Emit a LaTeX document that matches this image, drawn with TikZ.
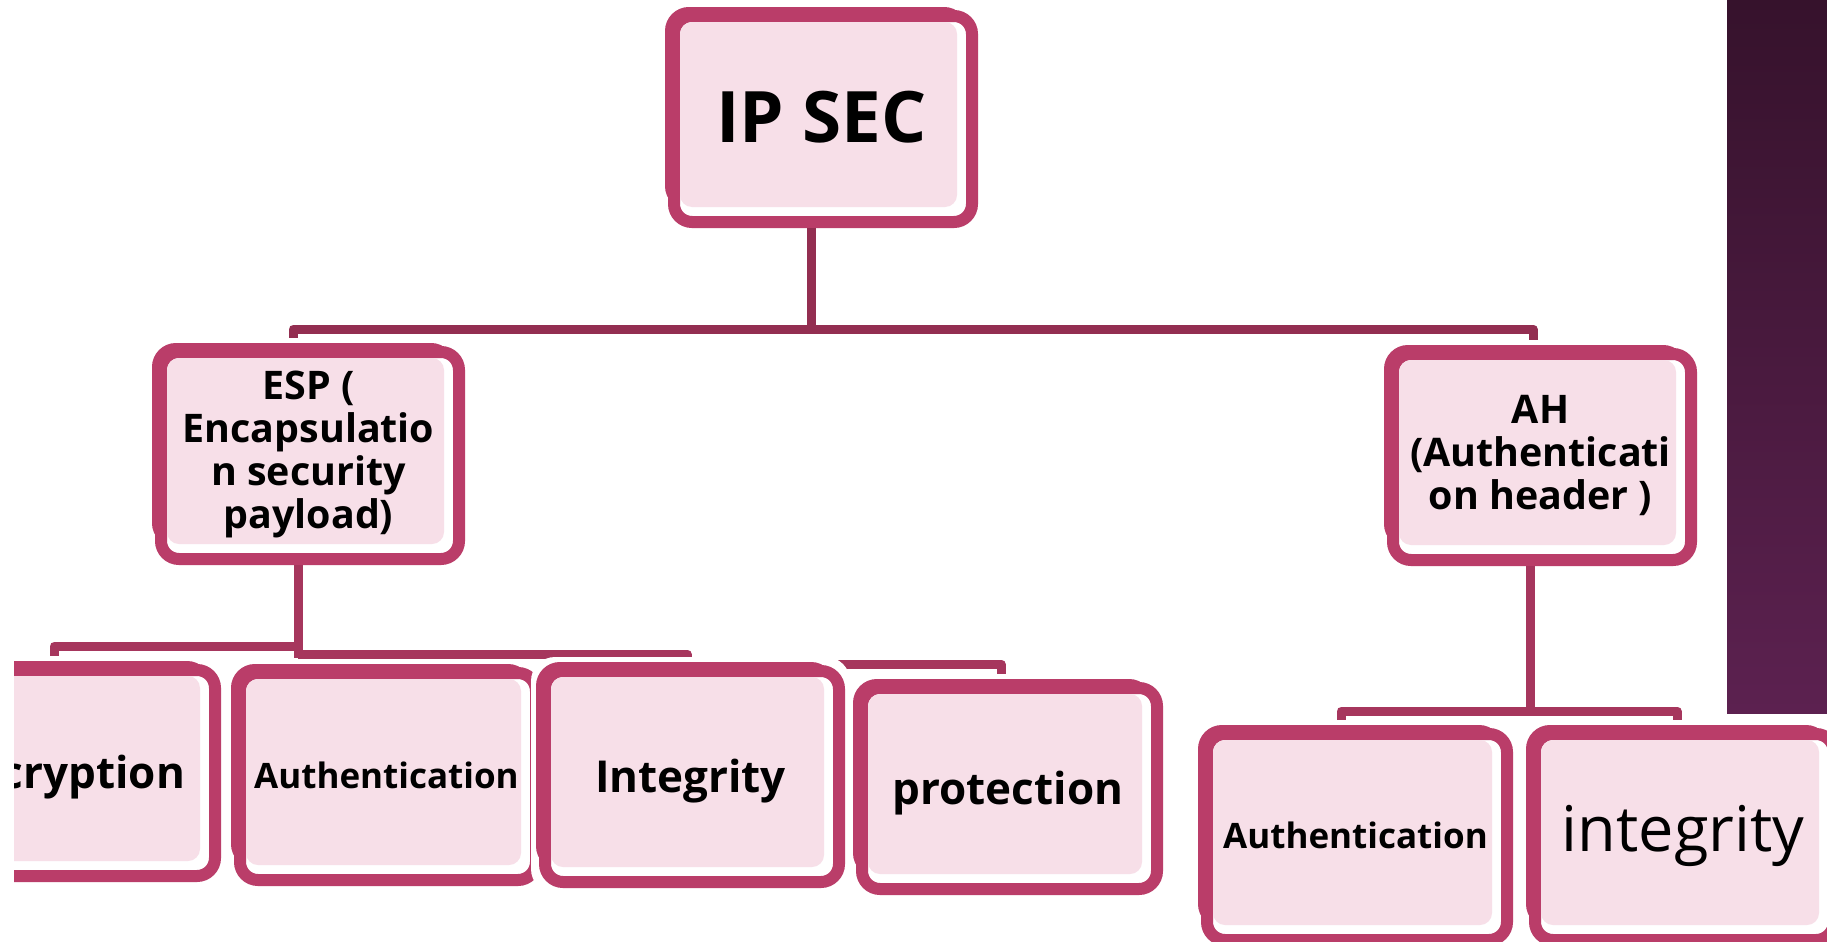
\documentclass[tikz,border=0pt]{standalone}
\usepackage{fontspec}
\setmainfont{Open Sans}
\usetikzlibrary{backgrounds}

\definecolor{boxline}{RGB}{186,61,105}
\definecolor{boxfill}{RGB}{247,223,232}
\definecolor{linkdark}{RGB}{147,46,81}
\definecolor{linkmid}{RGB}{166,54,93}
\definecolor{stripTop}{RGB}{54,18,44}
\definecolor{stripBot}{RGB}{92,33,80}

\tikzset{
  halo/.style={fill=white, rounded corners=12pt},
  boxedge/.style={draw=boxline, line width=6pt, rounded corners=9pt, fill=white},
  boxinner/.style={fill=boxfill, rounded corners=6pt},
  boxtext/.style={inner sep=0pt, align=center, text=black},
  toplink/.style={draw=linkdark, line width=4.5pt, line join=round},
  sublink/.style={draw=linkmid, line width=4.5pt, line join=round},
  titlefont/.style={font=\fontsize{35.5pt}{40pt}\selectfont\bfseries},
  groupfont/.style={font=\fontsize{19.7pt}{21.5pt}\selectfont\bfseries},
  smallfont/.style={font=\fontsize{17.5pt}{20pt}\selectfont\bfseries},
  leaffont/.style={font=\fontsize{22pt}{26pt}\selectfont\bfseries, yshift=-3pt},
  lightfont/.style={font=\fontsize{31.5pt}{36pt}\selectfont},
}

% \pinkbox{name}{x1}{y1}{x2}{y2}{node options}{text}
% a double pink outline, white margin and tinted interior, text centred
\newcommand\pinkbox[7]{%
  \fill[halo] ({#2-5},{#3-5}) rectangle ({#4+5},{#5+5});
  \draw[boxedge] ({#2+6},{#3+6}) rectangle ({#4-16},{#5-24});
  \draw[boxedge] ({#2+9},{#3+9}) rectangle ({#4-6},{#5-6});
  \fill[boxinner] ({#2+15},{#3+15}) rectangle ({#4-21},{#5-21});
  \node[boxtext, #6, minimum width={(#4-#2)*0.5pt}, minimum height={(#5-#3)*0.5pt}]
    (#1) at ({(#2+#4)/2},{(#3+#5)/2}) {#7};
}

\begin{document}
\begin{tikzpicture}[x=0.5pt, y=-0.5pt]
\useasboundingbox (0,0) rectangle (1827,942);

% boxes
\pinkbox{ipsec}{665}{7}{978}{228}{titlefont}{IP SEC}
\pinkbox{esp}{152}{343}{465}{565}{groupfont}{ESP (\\Encapsulatio\\n security\\payload)}
\pinkbox{ah}{1384}{345}{1697}{566}{groupfont}{AH\\(Authenticati\\on header )}

\begin{scope}
  \clip (14,0) rectangle (1827,942);
  \pinkbox{encr}{-35}{661}{221}{882}{leaffont}{cryption}
\end{scope}
\pinkbox{auth}{231}{664}{542}{886}{smallfont}{Authentication}
\pinkbox{integ}{536}{662}{845}{888}{leaffont}{Integrity}
\pinkbox{prot}{853}{679}{1163}{895}{leaffont}{protection}
\pinkbox{authb}{1198}{725}{1513}{946}{smallfont}{Authentication}
\pinkbox{integb}{1526}{725}{1840}{946}{lightfont}{integrity}

% junction points of the tree
\coordinate (mainL) at (293,329);
\coordinate (mainR) at (1533,329);
\coordinate (mainJ) at (811,329);
\coordinate (espJ) at (298,654);
\coordinate (barA) at (54,646);
\coordinate (barB) at (687,654);
\coordinate (barC) at (1001,664);
\coordinate (ahJ) at (1530,711);
\coordinate (ahL) at (1341,711);
\coordinate (ahR) at (1677,711);

% stems leaving the parent boxes
\draw[toplink] (ipsec.south -| mainJ) -- (mainJ);
\draw[sublink] (esp.south -| espJ) -- ([yshift=-2pt]espJ);
\draw[sublink] (ah.south -| ahJ) -- (ahJ);

\begin{pgfonlayer}{background}
  % dark side band
  \shade[top color=stripTop, bottom color=stripBot] (1727,0) rectangle (1827,713);

  % first level bar
  \draw[toplink] (esp.north -| mainL) -- (mainL) -- (mainR) -- (ah.north -| mainR);

  % ESP branch bars
  \draw[sublink] (encr.north -| barA) -- (barA) -- (barA -| espJ);
  \draw[sublink] (espJ) -- (barB) -- (barB |- barC) -- (barC) -- (prot.north -| barC);

  % AH branch bar
  \draw[sublink] (authb.north -| ahL) -- (ahL) -- (ahR) -- (integb.north -| ahR);
\end{pgfonlayer}
\end{tikzpicture}
\end{document}
